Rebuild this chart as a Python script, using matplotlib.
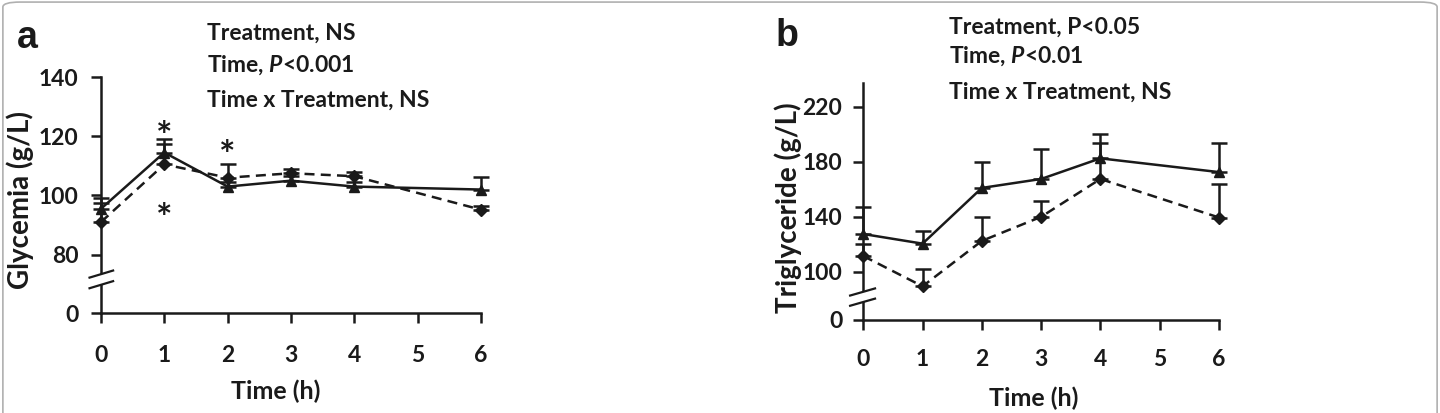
import matplotlib
matplotlib.use("Agg")
import matplotlib.pyplot as plt
from matplotlib.patches import FancyBboxPatch, Polygon
from matplotlib.lines import Line2D
import numpy as np

plt.rcParams['font.family'] = ['Lato', 'DejaVu Sans']
plt.rcParams['font.weight'] = 'bold'
plt.rcParams['mathtext.fontset'] = 'custom'
plt.rcParams['mathtext.it'] = 'Lato:italic:bold'
plt.rcParams['mathtext.rm'] = 'Lato:bold'

INK = "#1a1a1a"

# time points (h)
time_ticks = [0, 1, 2, 3, 4, 5, 6]
times = [0, 1, 2, 3, 4, 6]

# panel a: glycemia (g/L), mean and upper error
gly_solid = [95.5, 114.5, 103, 105, 103, 102]
gly_solid_err = [3.5, 4.5, 1.5, 1.5, 1.5, 4.3]
gly_dashed = [91, 110.5, 106, 107.5, 106.5, 95.2]
gly_dashed_err = [6.5, 7.0, 4.7, 1.5, 1.5, 1.2]
gly_ticks = [80, 100, 120, 140]
gly_zero_pos = 60.3
gly_top = 140
gly_stars_x = [1, 1, 2]
gly_stars_y = [119.5, 92, 113]
gly_text = ["Treatment, NS", r"Time, $P$<0.001", "Time x Treatment, NS"]

# panel b: triglyceride (g/L)
tg_solid = [127.5, 120.5, 161, 167.5, 182.5, 172.5]
tg_solid_err = [19.4, 9.3, 18.8, 22.1, 18.0, 21.2]
tg_dashed = [111.5, 89.5, 122.5, 140, 167.5, 139.5]
tg_dashed_err = [9.0, 12.3, 17.1, 11.3, 26.2, 24.0]
tg_ticks = [100, 140, 180, 220]
tg_zero_pos = 65
tg_top = 237.5
tg_text = ["Treatment, P<0.05", r"Time, $P$<0.01", "Time x Treatment, NS"]


def draw_panel(ax, solid, solid_err, dashed, dashed_err, ticks, zero_pos, top,
               ylabel, xpad, ypad, ylab_pos, xlab_x):
    ax.errorbar(times, dashed, yerr=[np.zeros(len(dashed)), dashed_err],
                color=INK, ls=(0, (4, 2.5)), lw=1.8, marker="D", ms=6.5,
                capsize=6, capthick=1.8, elinewidth=1.8, clip_on=False, zorder=3)
    ax.errorbar(times, solid, yerr=[np.zeros(len(solid)), solid_err],
                color=INK, ls="-", lw=1.8, marker="^", ms=7.5,
                capsize=6, capthick=1.8, elinewidth=1.8, clip_on=False, zorder=4)
    ax.set_xlim(0, 6)
    ax.set_ylim(zero_pos, top)
    ax.set_xticks(time_ticks)
    ax.set_yticks([zero_pos] + ticks)
    ax.set_yticklabels(["0"] + [str(t) for t in ticks])
    for s in ["top", "right"]:
        ax.spines[s].set_visible(False)
    for s in ["left", "bottom"]:
        ax.spines[s].set_linewidth(1.8)
        ax.spines[s].set_color(INK)
    ax.tick_params(axis="both", direction="out", length=7, width=1.8,
                   color=INK, labelsize=16.5, labelcolor=INK)
    ax.tick_params(axis="x", pad=xpad)
    ax.tick_params(axis="y", pad=ypad)
    for lab in ax.get_xticklabels() + ax.get_yticklabels():
        lab.set_fontweight("bold")
    ax.set_ylabel(ylabel, fontsize=20, fontweight="bold", color=INK)
    ax.yaxis.set_label_coords(*ylab_pos)
    ax.yaxis.label.set_va("center")
    ax.set_xlabel("Time (h)", fontsize=18, fontweight="bold", color=INK)
    ax.xaxis.set_label_coords(xlab_x, -0.33)
    ax.xaxis.label.set_va("center")


def draw_break(ax, y0, y1, x0, x1, slope):
    # white gap on the axis plus two slanted strokes
    poly = Polygon([(x0, y0 - slope), (x1, y0 + slope), (x1, y1 + slope), (x0, y1 - slope)],
                   closed=True, transform=ax.transAxes, facecolor="white",
                   edgecolor="none", clip_on=False, zorder=5)
    ax.add_patch(poly)
    for y in (y0, y1):
        ax.add_line(Line2D([x0, x1], [y - slope, y + slope], transform=ax.transAxes,
                           color=INK, lw=1.6, clip_on=False, zorder=6))


fig = plt.figure(figsize=(14.4, 4.13), dpi=100)

ax1 = fig.add_axes([0.0701, 0.2421, 0.2639, 0.5714])
draw_panel(ax1, gly_solid, gly_solid_err, gly_dashed, gly_dashed_err,
           gly_ticks, gly_zero_pos, gly_top, "Glycemia (g/L)", 16, 9,
           (-0.213, 0.48), 0.46)
draw_break(ax1, 0.12, 0.165, -0.03, 0.032, 0.015)
for sx, sy in zip(gly_stars_x, gly_stars_y):
    ax1.text(sx, sy, "*", fontsize=28, ha="center", va="center", color=INK)

ax2 = fig.add_axes([0.5995, 0.2252, 0.247, 0.5746])
draw_panel(ax2, tg_solid, tg_solid_err, tg_dashed, tg_dashed_err,
           tg_ticks, tg_zero_pos, tg_top, "Triglyceride (g/L)", 14, 8,
           (-0.212, 0.475), 0.48)
draw_break(ax2, 0.075, 0.118, -0.037, 0.033, 0.015)

# statistics text
for i, t in enumerate(gly_text):
    fig.text(207 / 1440, 1 - [33, 65, 100][i] / 413, t, fontsize=16.5,
             fontweight="bold", color=INK, va="center", ha="left")
for i, t in enumerate(tg_text):
    fig.text(949 / 1440, 1 - [27, 56, 92][i] / 413, t, fontsize=16.5,
             fontweight="bold", color=INK, va="center", ha="left")

fig.text(17 / 1440, 1 - 38 / 413, "a", fontsize=27, fontweight="bold",
         family="Liberation Sans", color=INK, va="center")
fig.text(776 / 1440, 1 - 36 / 413, "b", fontsize=27, fontweight="bold",
         family="Liberation Sans", color=INK, va="center")

border = FancyBboxPatch((0.002, -0.05), 0.996, 1.045, boxstyle="round,pad=0,rounding_size=0.012",
                        transform=fig.transFigure, facecolor="none",
                        edgecolor="#b0b0b0", lw=1.2)
fig.patches.append(border)

fig.savefig("out.png", dpi=100)
